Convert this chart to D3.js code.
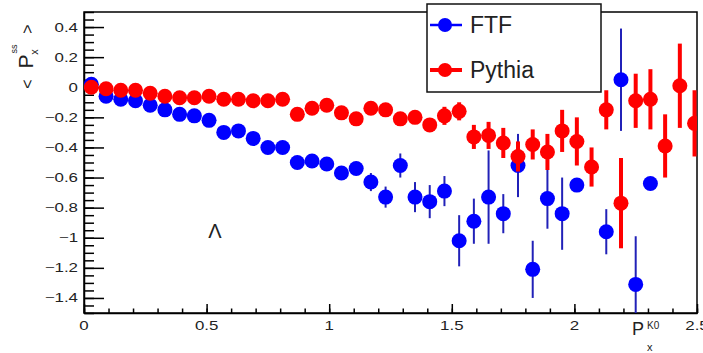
<!DOCTYPE html>
<html>
<head>
<meta charset="utf-8">
<script src="https://cdn.jsdelivr.net/npm/d3@7/dist/d3.min.js"></script>
<style>
  body { margin: 0; background: #fff; }
  svg { display: block; font-family: "Liberation Sans", Arial, sans-serif; }
</style>
</head>
<body>
<svg id="chart" width="703" height="353"></svg>
<script>
// bin centres of P_x^K0
const pxK0 = [0.03, 0.09, 0.15, 0.21, 0.27, 0.33, 0.39, 0.45, 0.51, 0.57,
  0.63, 0.69, 0.75, 0.81, 0.87, 0.93, 0.99, 1.05, 1.11, 1.17,
  1.23, 1.29, 1.35, 1.41, 1.47, 1.53, 1.59, 1.65, 1.71, 1.77,
  1.83, 1.89, 1.95, 2.01, 2.07, 2.13, 2.19, 2.25, 2.31, 2.37,
  2.43, 2.49];

// FTF  <P_x^ss>
const ftfMean = [0.02, -0.06, -0.08, -0.09, -0.12, -0.15, -0.18, -0.19, -0.22, -0.30,
  -0.29, -0.34, -0.40, -0.40, -0.50, -0.49, -0.51, -0.57, -0.54, -0.63,
  -0.73, -0.52, -0.73, -0.76, -0.69, -1.02, -0.89, -0.73, -0.84, -0.52,
  -1.21, -0.74, -0.84, -0.65, null, -0.96, 0.05, -1.31, -0.64, null,
  null, null];
const ftfErr = [0.01, 0.01, 0.01, 0.01, 0.01, 0.01, 0.01, 0.01, 0.01, 0.01,
  0.01, 0.01, 0.01, 0.02, 0.02, 0.02, 0.02, 0.03, 0.03, 0.06,
  0.07, 0.08, 0.10, 0.11, 0.10, 0.17, 0.15, 0.31, 0.13, 0.21,
  0.19, 0.20, 0.24, 0.02, null, 0.15, 0.34, 0.32, 0.02, null,
  null, null];

// Pythia <P_x^ss>
const pythiaMean = [0.00, -0.01, -0.02, -0.02, -0.04, -0.06, -0.07, -0.07, -0.06, -0.08,
  -0.08, -0.09, -0.09, -0.08, -0.18, -0.14, -0.12, -0.17, -0.21, -0.14,
  -0.15, -0.21, -0.20, -0.25, -0.19, -0.16, -0.33, -0.32, -0.37, -0.46,
  -0.38, -0.43, -0.29, -0.36, -0.53, -0.15, -0.77, -0.09, -0.08, -0.39,
  0.01, -0.24];
const pythiaErr = [0.01, 0.01, 0.01, 0.01, 0.01, 0.01, 0.02, 0.02, 0.02, 0.02,
  0.02, 0.02, 0.02, 0.02, 0.03, 0.03, 0.03, 0.03, 0.03, 0.03,
  0.03, 0.04, 0.04, 0.04, 0.06, 0.06, 0.08, 0.09, 0.10, 0.10,
  0.10, 0.12, 0.14, 0.16, 0.13, 0.13, 0.30, 0.18, 0.20, 0.21,
  0.28, 0.22];

const xTickValues = [0, 0.5, 1, 1.5, 2, 2.5];
const xTickLabels = ["0", "0.5", "1", "1.5", "2", "2.5"];
const yTickValues = [0.4, 0.2, 0, -0.2, -0.4, -0.6, -0.8, -1, -1.2, -1.4];
const yTickLabels = ["0.4", "0.2", "0", "\u22120.2", "\u22120.4", "\u22120.6", "\u22120.8", "\u22121", "\u22121.2", "\u22121.4"];

const svg = d3.select("#chart");
const frameL = 84, frameR = 697, frameT = 12, frameB = 313;

const x = d3.scaleLinear().domain([0, 2.5]).range([frameL, frameR]);
const y = d3.scaleLinear().domain([-1.5, 0.5]).range([frameB, frameT]);

// frame
svg.append("rect")
  .attr("x", frameL).attr("y", frameT)
  .attr("width", frameR - frameL).attr("height", frameB - frameT)
  .attr("fill", "none").attr("stroke", "#000").attr("stroke-width", 1.5);

// x axis ticks (pointing inwards)
const xMinor = d3.range(0, 2.501, 0.1);
svg.append("g")
  .attr("transform", "translate(0," + frameB + ")")
  .call(d3.axisBottom(x).tickValues(xMinor).tickSize(-4.5).tickSizeOuter(0).tickFormat(""))
  .call(g => g.selectAll("line").attr("stroke-width", 1.5));
svg.append("g")
  .attr("transform", "translate(0," + frameB + ")")
  .call(d3.axisBottom(x).tickValues(xTickValues).tickSize(-9).tickSizeOuter(0).tickFormat(""))
  .call(g => g.selectAll("line").attr("stroke-width", 1.5))
  .call(g => g.select(".domain").attr("stroke-width", 1.5));

// y axis ticks
const yMinor = d3.range(-1.5, 0.501, 0.05);
svg.append("g")
  .attr("transform", "translate(" + frameL + ",0)")
  .call(d3.axisLeft(y).tickValues(yMinor).tickSize(-10).tickSizeOuter(0).tickFormat(""))
  .call(g => g.selectAll("line").attr("stroke-width", 1.5));
svg.append("g")
  .attr("transform", "translate(" + frameL + ",0)")
  .call(d3.axisLeft(y).tickValues(yTickValues).tickSize(-20).tickSizeOuter(0).tickFormat(""))
  .call(g => g.selectAll("line").attr("stroke-width", 1.5))
  .call(g => g.select(".domain").attr("stroke-width", 1.5));

// tick labels (ROOT-ish, a bit wide)
svg.append("g").selectAll("text")
  .data(xTickValues)
  .join("text")
  .attr("transform", d => "translate(" + x(d) + "," + 330 + ") scale(1.35,1)")
  .attr("text-anchor", "middle")
  .attr("font-size", 12.5)
  .attr("fill", "#222")
  .text((d, i) => xTickLabels[i]);

svg.append("g").selectAll("text")
  .data(yTickValues)
  .join("text")
  .attr("transform", d => "translate(78," + (y(d) + 4.5) + ") scale(1.35,1)")
  .attr("text-anchor", "end")
  .attr("font-size", 12.5)
  .attr("fill", "#222")
  .text((d, i) => yTickLabels[i]);

// axis titles
const xt = svg.append("g").attr("fill", "#222");
xt.append("text").attr("x", 632).attr("y", 335).attr("font-size", 18).text("P");
xt.append("text").attr("x", 647).attr("y", 329).attr("font-size", 10).text("K0");
xt.append("text").attr("x", 647).attr("y", 351).attr("font-size", 11).text("x");

const yt = svg.append("g").attr("fill", "#222").attr("transform", "rotate(-90)");
yt.append("text").attr("x", -84).attr("y", 33).attr("text-anchor", "middle").attr("font-size", 16).text("<");
yt.append("text").attr("x", -61.5).attr("y", 33).attr("text-anchor", "middle").attr("font-size", 21).text("P");
yt.append("text").attr("x", -49).attr("y", 17).attr("text-anchor", "middle").attr("font-size", 9).text("ss");
yt.append("text").attr("x", -52).attr("y", 38).attr("text-anchor", "middle").attr("font-size", 11).text("x");
yt.append("text").attr("x", -29).attr("y", 33).attr("text-anchor", "middle").attr("font-size", 16).text(">");

svg.append("text").attr("x", 215).attr("y", 238).attr("text-anchor", "middle")
  .attr("font-size", 20).attr("fill", "#222").text("\u039B");

// data
svg.append("clipPath").attr("id", "plotclip")
  .append("rect").attr("x", frameL).attr("y", frameT)
  .attr("width", frameR - frameL).attr("height", frameB - frameT);
const plot = svg.append("g").attr("clip-path", "url(#plotclip)");

function drawSeries(means, errs, barColor, barWidth, markColor) {
  const pts = pxK0.map((px, i) => ({ px: px, v: means[i], e: errs[i] }))
    .filter(d => d.v !== null);
  const g = plot.append("g");
  g.selectAll("line")
    .data(pts)
    .join("line")
    .attr("x1", d => x(d.px)).attr("x2", d => x(d.px))
    .attr("y1", d => y(d.v + d.e)).attr("y2", d => y(d.v - d.e))
    .attr("stroke", barColor).attr("stroke-width", barWidth);
  g.selectAll("circle")
    .data(pts)
    .join("circle")
    .attr("cx", d => x(d.px)).attr("cy", d => y(d.v))
    .attr("r", 7.5)
    .attr("fill", markColor);
}
drawSeries(ftfMean, ftfErr, "#2121b8", 2, "#0000ff");
drawSeries(pythiaMean, pythiaErr, "#ff0000", 4, "#ff0000");

// legend
const lg = svg.append("g");
lg.append("rect").attr("x", 427).attr("y", 4).attr("width", 174).attr("height", 88)
  .attr("fill", "#fff").attr("stroke", "#111").attr("stroke-width", 1.5);
const legendItems = [
  { name: "FTF", color: "#0000ff", lw: 2.5, cy: 25 },
  { name: "Pythia", color: "#ff0000", lw: 4, cy: 70 }
];
legendItems.forEach(it => {
  lg.append("line").attr("x1", 430).attr("x2", 462).attr("y1", it.cy).attr("y2", it.cy)
    .attr("stroke", it.color).attr("stroke-width", it.lw);
  lg.append("circle").attr("cx", 445).attr("cy", it.cy).attr("r", 7).attr("fill", it.color);
  lg.append("text").attr("x", 470).attr("y", it.cy + 8).attr("font-size", 23)
    .attr("fill", "#222").text(it.name);
});
</script>
</body>
</html>
